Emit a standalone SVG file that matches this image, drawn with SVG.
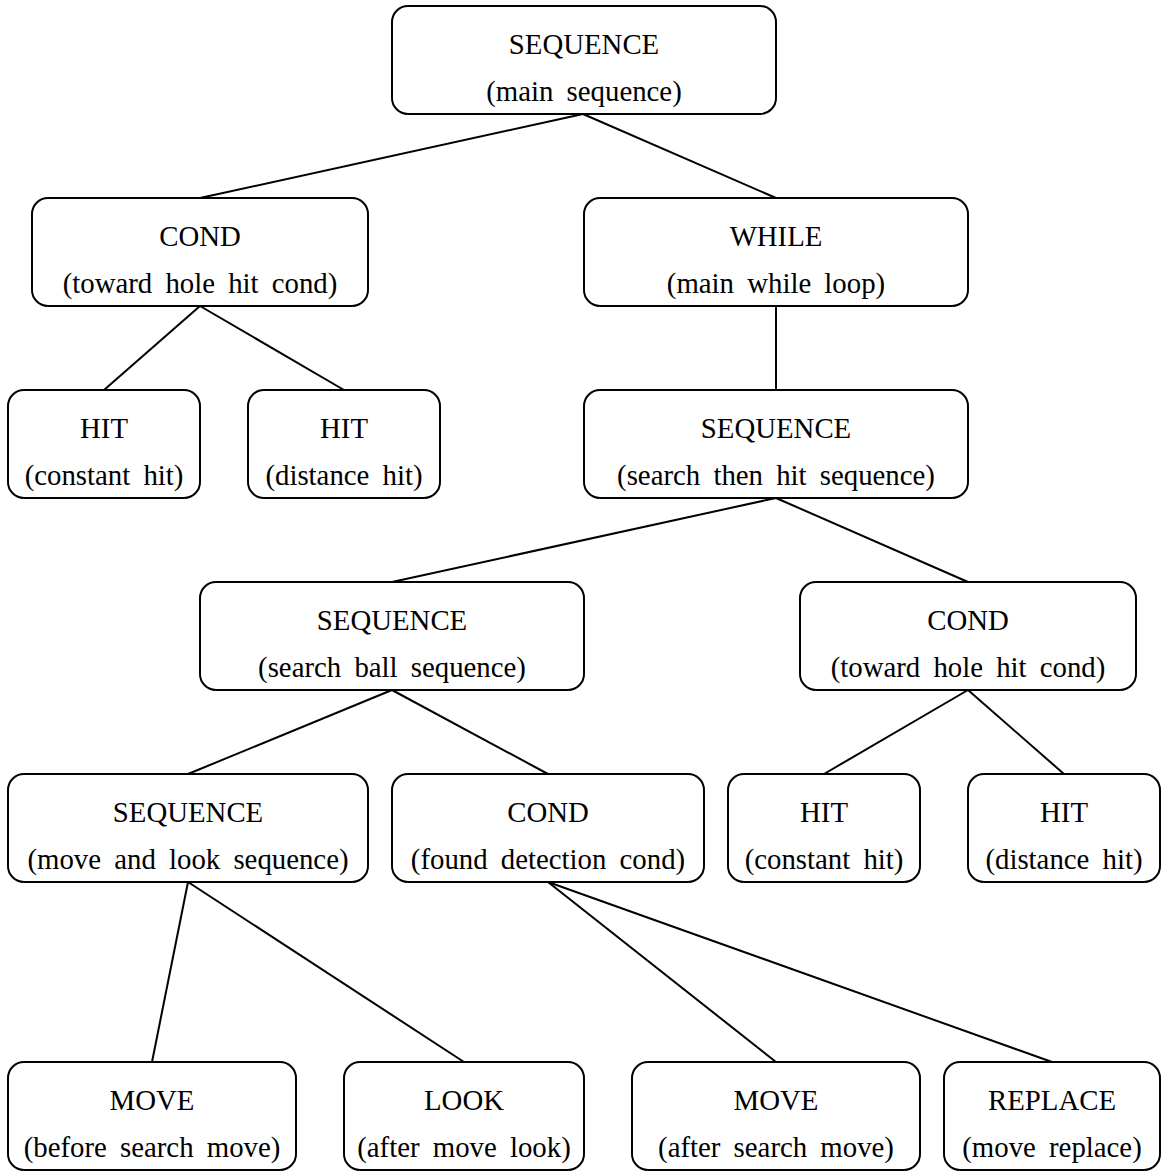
<svg xmlns="http://www.w3.org/2000/svg" width="1163" height="1171" viewBox="0 0 1163 1171">
<style>
rect.n{fill:#fff;stroke:#000;stroke-width:2}
text{font-family:"Liberation Serif","Times New Roman",serif;font-size:28.8px;fill:#000;text-anchor:middle;word-spacing:6px}
#edges line{stroke:#000;stroke-width:2}
</style>
<rect width="1163" height="1171" fill="#fff"/>
<g id="edges">
<line x1="583" y1="114" x2="200" y2="198"/>
<line x1="583" y1="114" x2="776" y2="198"/>
<line x1="200" y1="306" x2="104" y2="390"/>
<line x1="200" y1="306" x2="344" y2="390"/>
<line x1="776" y1="306" x2="776" y2="390"/>
<line x1="776" y1="498" x2="392" y2="582"/>
<line x1="776" y1="498" x2="968" y2="582"/>
<line x1="392" y1="690" x2="188" y2="774"/>
<line x1="392" y1="690" x2="548" y2="774"/>
<line x1="968" y1="690" x2="824" y2="774"/>
<line x1="968" y1="690" x2="1064" y2="774"/>
<line x1="188" y1="882" x2="152" y2="1062"/>
<line x1="188" y1="882" x2="464" y2="1062"/>
<line x1="548" y1="882" x2="776" y2="1062"/>
<line x1="548" y1="882" x2="1052" y2="1062"/>
</g>
<g id="n1"><rect class="n" x="392" y="6" width="384" height="108" rx="16"/><text x="584" y="54">SEQUENCE</text><text x="584" y="101">(main sequence)</text></g>
<g id="n2"><rect class="n" x="32" y="198" width="336" height="108" rx="16"/><text x="200" y="246">COND</text><text x="200" y="293">(toward hole hit cond)</text></g>
<g id="n3"><rect class="n" x="584" y="198" width="384" height="108" rx="16"/><text x="776" y="246">WHILE</text><text x="776" y="293">(main while loop)</text></g>
<g id="n4"><rect class="n" x="8" y="390" width="192" height="108" rx="16"/><text x="104" y="438">HIT</text><text x="104" y="485">(constant hit)</text></g>
<g id="n5"><rect class="n" x="248" y="390" width="192" height="108" rx="16"/><text x="344" y="438">HIT</text><text x="344" y="485">(distance hit)</text></g>
<g id="n6"><rect class="n" x="584" y="390" width="384" height="108" rx="16"/><text x="776" y="438">SEQUENCE</text><text x="776" y="485">(search then hit sequence)</text></g>
<g id="n7"><rect class="n" x="200" y="582" width="384" height="108" rx="16"/><text x="392" y="630">SEQUENCE</text><text x="392" y="677">(search ball sequence)</text></g>
<g id="n8"><rect class="n" x="800" y="582" width="336" height="108" rx="16"/><text x="968" y="630">COND</text><text x="968" y="677">(toward hole hit cond)</text></g>
<g id="n9"><rect class="n" x="8" y="774" width="360" height="108" rx="16"/><text x="188" y="822">SEQUENCE</text><text x="188" y="869">(move and look sequence)</text></g>
<g id="n10"><rect class="n" x="392" y="774" width="312" height="108" rx="16"/><text x="548" y="822">COND</text><text x="548" y="869">(found detection cond)</text></g>
<g id="n11"><rect class="n" x="728" y="774" width="192" height="108" rx="16"/><text x="824" y="822">HIT</text><text x="824" y="869">(constant hit)</text></g>
<g id="n12"><rect class="n" x="968" y="774" width="192" height="108" rx="16"/><text x="1064" y="822">HIT</text><text x="1064" y="869">(distance hit)</text></g>
<g id="n13"><rect class="n" x="8" y="1062" width="288" height="108" rx="16"/><text x="152" y="1110">MOVE</text><text x="152" y="1157">(before search move)</text></g>
<g id="n14"><rect class="n" x="344" y="1062" width="240" height="108" rx="16"/><text x="464" y="1110">LOOK</text><text x="464" y="1157">(after move look)</text></g>
<g id="n15"><rect class="n" x="632" y="1062" width="288" height="108" rx="16"/><text x="776" y="1110">MOVE</text><text x="776" y="1157">(after search move)</text></g>
<g id="n16"><rect class="n" x="944" y="1062" width="216" height="108" rx="16"/><text x="1052" y="1110">REPLACE</text><text x="1052" y="1157">(move replace)</text></g>
</svg>
